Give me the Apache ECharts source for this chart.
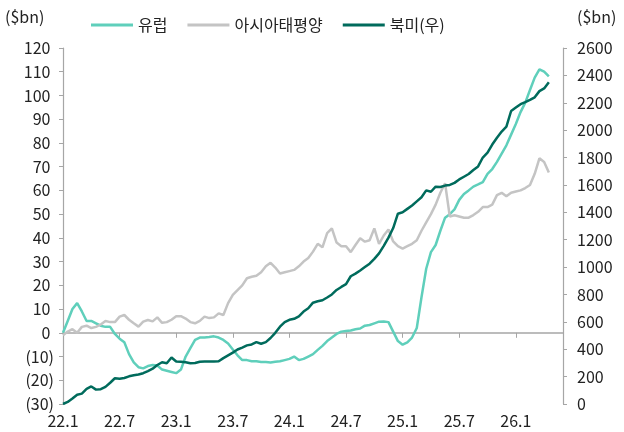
<!DOCTYPE html>
<html>
<head>
<meta charset="utf-8">
<script src="https://cdn.jsdelivr.net/npm/echarts@6/dist/echarts.min.js"></script>
<style>
  html, body { margin: 0; padding: 0; background: #fff; }
  #chart { width: 624px; height: 432px; }
</style>
</head>
<body>
<div id="chart"></div>
<script>
// 반월 단위 카테고리 (22.1 ~ 26.6)
var categories = [];
for (var k = 0; k <= 106; k++) {
    var m = Math.floor(k / 2);
    var yy = 22 + Math.floor(m / 12);
    var mm = (m % 12) + 1;
    categories.push(yy + "." + mm + (k % 2 ? "h" : ""));
}
var tickLabels = ["22.1", "22.7", "23.1", "23.7", "24.1", "24.7", "25.1", "25.7", "26.1"];

// 유럽 (좌축, $bn)
var europe = [
    0, 5, 10, 12.5, 9, 5, 5, 4, 3, 2.5,
    2.5, -0.5, -2.5, -4, -9, -12.5, -14.5, -15, -14, -13.6,
    -13.8, -15.5, -16, -16.5, -17, -15.5, -10, -6.5, -3, -2,
    -2, -1.8, -1.5, -2, -3, -4.5, -7, -9.5, -11.5, -11.5,
    -12, -12, -12.3, -12.3, -12.5, -12.2, -12, -11.5, -11, -10,
    -11.5, -11, -10, -9, -7.2, -5.5, -3.5, -2, -0.5, 0.5,
    0.8, 1, 1.5, 1.8, 3, 3.3, 4, 4.7, 4.8, 4.5,
    0.5, -3.5, -5, -4, -2, 2, 15, 27, 34, 37,
    43, 48.5, 50, 52, 56, 58.5, 60, 61.6, 62.5, 63.5,
    67, 69, 72, 75.5, 79, 83.5, 88, 93, 97, 102.3,
    107.5, 111, 110, 108
];

// 아시아태평양 (좌축, $bn)
var asiaPacific = [
    -1, 0.5, 1.5, 0, 2.5, 3, 2, 2.5, 3.5, 5,
    4.5, 4.5, 6.8, 7.5, 5.5, 4, 2.6, 4.7, 5.4, 4.8,
    6.5, 4.2, 4.5, 5.5, 7, 7, 6, 4.5, 4, 5,
    6.8, 6.2, 6.5, 8.2, 7.5, 12.5, 16, 18, 20, 23,
    23.6, 24, 25.5, 28, 29.5, 27.5, 25, 25.5, 26, 26.5,
    28, 30, 31.5, 34.2, 37.5, 36, 42, 44, 38, 36.5,
    36.5, 34, 37, 39.8, 38.4, 39, 44, 37.5, 41, 43.5,
    38.5, 36.5, 35.5, 36.5, 37.5, 39, 43, 46.5, 50, 54,
    59, 63, 49, 49.5, 49, 48.5, 48.5, 49.6, 51, 53,
    53, 54, 58, 59, 57.5, 59, 59.5, 60, 61, 62.3,
    67, 73.5, 72, 67.5
];

// 북미 (우축, $bn)
var northAmerica = [
    0, 15, 40, 68, 76, 110, 128, 105, 108, 125,
    155, 188, 185, 190, 202, 210, 215, 225, 240, 258,
    285, 305, 298, 340, 310, 308, 305, 298, 300, 309,
    310, 310, 310, 312, 335, 355, 375, 398, 412, 428,
    435, 452, 440, 452, 482, 520, 565, 598, 615, 622,
    640, 675, 699, 740, 750, 758, 778, 800, 833, 855,
    875, 933, 952, 975, 1000, 1025, 1060, 1100, 1155, 1215,
    1285, 1390, 1400, 1425, 1450, 1480, 1510, 1560, 1550, 1587,
    1585, 1595, 1600, 1615, 1640, 1660, 1680, 1709, 1735, 1800,
    1835, 1895, 1945, 1990, 2025, 2140, 2165, 2190, 2205, 2221,
    2240, 2285, 2305, 2350
];

var fontFamily = "'Noto Sans CJK KR', 'Noto Sans', sans-serif";
var axisColor = "#a6a6a6";

var myChart = echarts.init(document.getElementById("chart"));

var option = {
    animation: false,
    textStyle: { fontFamily: fontFamily },
    grid: { left: 63, right: 61, top: 48, bottom: 28 },
    legend: {
        left: 86,
        top: 12,
        itemWidth: 42,
        itemHeight: 3,
        itemGap: 20,
        icon: "rect",
        textStyle: { fontSize: 16, color: "#222", fontFamily: fontFamily },
        data: ["유럽", "아시아태평양", "북미(우)"]
    },
    graphic: [
        { type: "text", left: 5, top: 9, style: { text: "($bn)", fontSize: 16, fill: "#222", fontFamily: fontFamily } },
        { type: "text", left: 577, top: 9, style: { text: "($bn)", fontSize: 16, fill: "#222", fontFamily: fontFamily } }
    ],
    xAxis: [
        {
            // 아래쪽 라벨 전용
            type: "category",
            data: categories,
            boundaryGap: false,
            position: "bottom",
            axisLine: { show: false, onZero: false },
            axisTick: { show: false },
            splitLine: { show: false },
            axisLabel: {
                interval: 0,
                margin: 9,
                fontSize: 16,
                color: "#222",
                formatter: function (v) {
                    return tickLabels.indexOf(v) >= 0 ? v : "";
                }
            }
        },
        {
            // 0 선 + 눈금
            type: "category",
            data: categories,
            boundaryGap: false,
            position: "top",
            axisLine: { show: true, onZero: true, onZeroAxisIndex: 0, lineStyle: { color: axisColor, width: 1.5 } },
            axisTick: {
                show: true,
                inside: true,
                length: 5,
                lineStyle: { color: axisColor },
                interval: function (index) { return index % 12 === 0; }
            },
            axisLabel: { show: false },
            splitLine: { show: false }
        }
    ],
    yAxis: [
        {
            type: "value",
            min: -30,
            max: 120,
            interval: 10,
            axisLine: { show: true, lineStyle: { color: axisColor, width: 1.2 } },
            axisTick: { show: true, length: 4, lineStyle: { color: axisColor } },
            splitLine: { show: false },
            axisLabel: {
                margin: 9,
                fontSize: 16,
                color: "#222",
                formatter: function (v) {
                    return v < 0 ? "(" + (-v) + ")" : v + " ";
                }
            }
        },
        {
            type: "value",
            min: 0,
            max: 2600,
            interval: 200,
            position: "right",
            axisLine: { show: true, lineStyle: { color: axisColor, width: 1.2 } },
            axisTick: { show: true, length: 4, lineStyle: { color: axisColor } },
            splitLine: { show: false },
            axisLabel: {
                margin: 14,
                fontSize: 16,
                color: "#222",
                formatter: function (v) { return String(v); }
            }
        }
    ],
    series: [
        {
            name: "유럽",
            type: "line",
            xAxisIndex: 0,
            yAxisIndex: 0,
            data: europe,
            showSymbol: false,
            lineStyle: { color: "#5fcfbb", width: 2.5 },
            itemStyle: { color: "#5fcfbb" }
        },
        {
            name: "아시아태평양",
            type: "line",
            xAxisIndex: 0,
            yAxisIndex: 0,
            data: asiaPacific,
            showSymbol: false,
            lineStyle: { color: "#c4c4c4", width: 2.5 },
            itemStyle: { color: "#c4c4c4" }
        },
        {
            name: "북미(우)",
            type: "line",
            xAxisIndex: 0,
            yAxisIndex: 1,
            data: northAmerica,
            showSymbol: false,
            lineStyle: { color: "#006b5c", width: 2.5 },
            itemStyle: { color: "#006b5c" }
        }
    ]
};

myChart.setOption(option);
</script>
</body>
</html>
